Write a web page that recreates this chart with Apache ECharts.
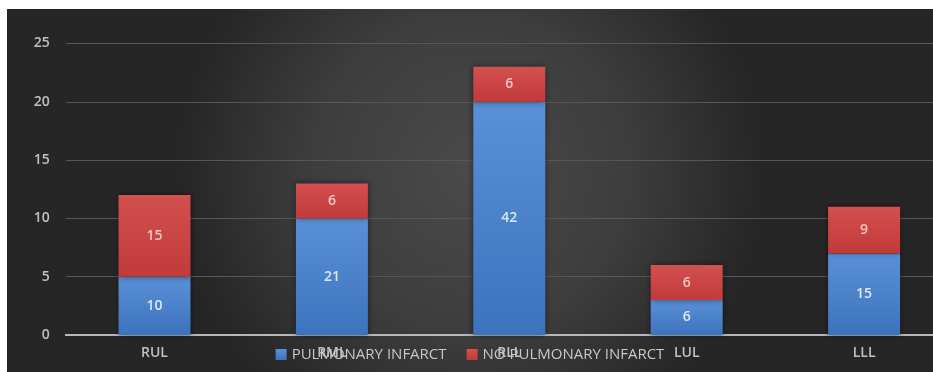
<!DOCTYPE html>
<html>
<head>
<meta charset="utf-8">
<script src="https://cdn.jsdelivr.net/npm/echarts@6/dist/echarts.min.js"></script>
<style>
  html, body { margin: 0; padding: 0; background: #ffffff; width: 933px; height: 372px; overflow: hidden; }
  #chart { position: absolute; left: 7px; top: 9px; width: 926px; height: 363px; }
</style>
</head>
<body>
<div id="chart"></div>
<script>
// Lobes of the lung
const lobes = ['RUL', 'RML', 'RLL', 'LUL', 'LLL'];

// Number of cases per lobe (bar heights)
const infarctCounts = [5, 10, 20, 3, 7];
const noInfarctCounts = [7, 3, 3, 3, 4];

// Percent figures printed inside each segment
const infarctPct = [10, 21, 42, 6, 15];
const noInfarctPct = [15, 6, 6, 6, 9];

// Value axis ticks
const yTicks = [0, 5, 10, 15, 20, 25];

const chart = echarts.init(document.getElementById('chart'));

const font = '"Open Sans", "DejaVu Sans", sans-serif';

function gradient(top, bottom) {
  return new echarts.graphic.LinearGradient(0, 0, 0, 1, [
    { offset: 0, color: top },
    { offset: 1, color: bottom }
  ]);
}

function segLabel(texts, color) {
  return {
    show: true,
    position: 'inside',
    color: color,
    fontFamily: font,
    fontSize: 14,
    fontWeight: 600,
    formatter: p => String(texts[p.dataIndex])
  };
}

chart.setOption({
  backgroundColor: new echarts.graphic.RadialGradient(0.5, 0.45, 0.8, [
    { offset: 0, color: '#4a4a4a' },
    { offset: 0.55, color: '#3d3d3d' },
    { offset: 1, color: '#262626' }
  ]),
  animation: false,
  grid: {
    left: 58.8, right: -19.8, top: 34.5, bottom: 37,
    containLabel: false,
    outerBoundsMode: 'none'
  },
  legend: {
    bottom: 5,
    left: 'center',
    itemWidth: 11,
    itemHeight: 11,
    itemGap: 20,
    icon: 'rect',
    textStyle: { color: '#c8c8c8', fontFamily: font, fontSize: 15 },
    data: ['PULMONARY INFARCT', 'NO PULMONARY INFARCT']
  },
  xAxis: {
    type: 'category',
    data: lobes,
    axisLine: { show: true, lineStyle: { color: '#b8b8b8', width: 2 } },
    axisTick: { show: false },
    axisLabel: { color: '#c0c0c0', fontFamily: font, fontSize: 14, fontWeight: 600, margin: 11 }
  },
  yAxis: {
    type: 'value',
    min: yTicks[0],
    max: yTicks[yTicks.length - 1],
    interval: yTicks[1] - yTicks[0],
    axisLine: { show: false },
    axisTick: { show: false },
    axisLabel: { color: '#c0c0c0', fontFamily: font, fontSize: 14, fontWeight: 600, margin: 16 },
    splitLine: { lineStyle: { color: '#575757', width: 1 } }
  },
  series: [
    {
      name: 'PULMONARY INFARCT',
      type: 'bar',
      stack: 'lobe',
      barWidth: 72,
      data: infarctCounts,
      itemStyle: {
        color: gradient('#5a90d6', '#3c73bd'),
        shadowColor: 'rgba(0,0,0,0.5)',
        shadowBlur: 6
      },
      label: segLabel(infarctPct, '#dce8f7')
    },
    {
      name: 'NO PULMONARY INFARCT',
      type: 'bar',
      stack: 'lobe',
      barWidth: 72,
      data: noInfarctCounts,
      itemStyle: {
        color: gradient('#d2504f', '#c23a3a'),
        shadowColor: 'rgba(0,0,0,0.5)',
        shadowBlur: 6
      },
      label: segLabel(noInfarctPct, '#f3c6c4')
    }
  ]
});
</script>
</body>
</html>
